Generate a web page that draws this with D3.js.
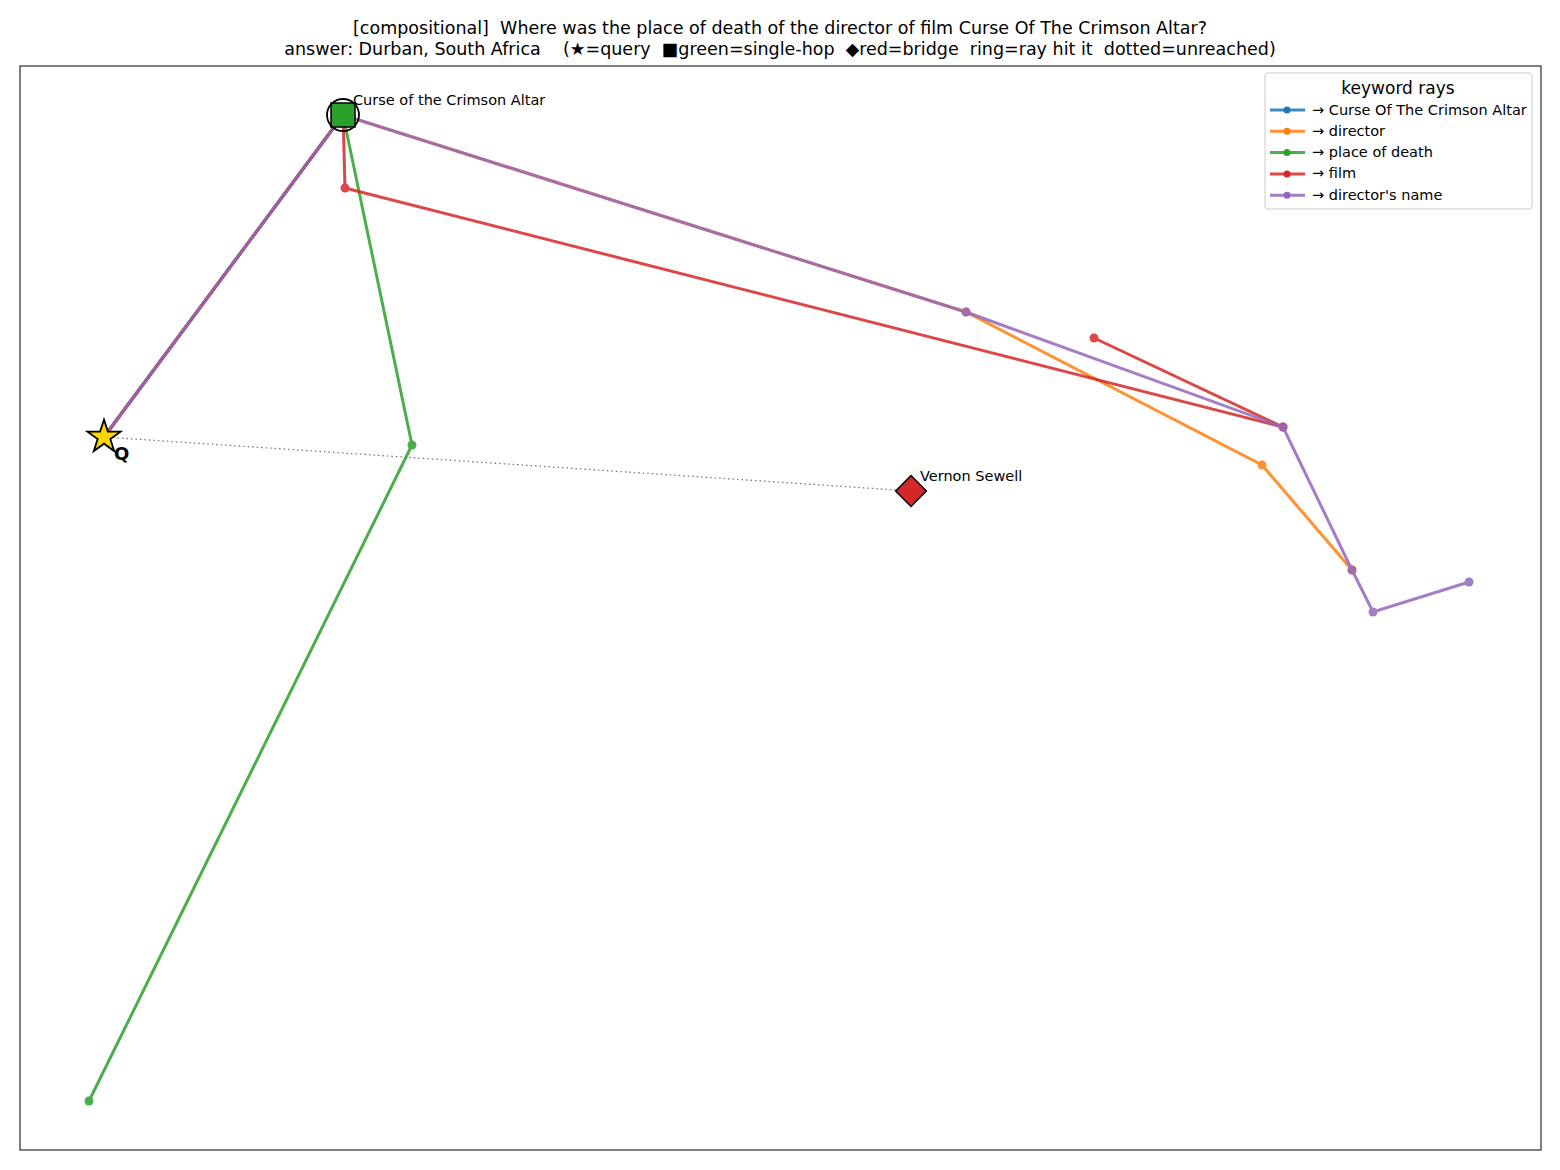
<!DOCTYPE html>
<html><head><meta charset="utf-8">
<script src="https://cdn.jsdelivr.net/npm/d3@7"></script>
<style>body{margin:0;background:#fff;font-family:"DejaVu Sans",sans-serif} text{white-space:pre}</style>
</head><body>
<script>
// positions in an arbitrary 2-D projection space (x right, y down)
const query = [104, 437]
const single = {name: 'Curse of the Crimson Altar', p: [343, 115]}
const bridge = {name: 'Vernon Sewell', p: [911, 491]}

const rayNames = ['→ Curse Of The Crimson Altar', '→ director', '→ place of death', '→ film', "→ director's name"]
const rayColors = ['#1f77b4', '#ff7f0e', '#2ca02c', '#d62728', '#9467bd']
const rayBlue = [[104, 437], [343, 115]]
const rayOrange = [[104, 437], [343, 115], [966, 312], [1262, 465], [1352, 570]]
const rayGreen = [[104, 437], [343, 115], [412, 445], [89, 1101]]
const rayRed = [[104, 437], [343, 115], [345, 188], [1283, 427], [1094, 338]]
const rayPurple = [[104, 437], [343, 115], [966, 312], [1283, 427], [1352, 570], [1373, 612], [1469, 582]]
const rays = [rayBlue, rayOrange, rayGreen, rayRed, rayPurple]

const W = 1560, H = 1170
const m = {l: 20, t: 66, r: 19, b: 20}
const svg = d3.select('body').append('svg').attr('width', W).attr('height', H)

const x = d3.scaleLinear().domain([0, 1521]).range([m.l, W - m.r])
const y = d3.scaleLinear().domain([0, 1084]).range([m.t, H - m.b])
const px = p => x(p[0] - m.l), py = p => y(p[1] - m.t)

svg.append('text').attr('x', 780).attr('y', 34).attr('text-anchor', 'middle').attr('font-size', 17.5)
  .text('[compositional]  Where was the place of death of the director of film Curse Of The Crimson Altar?')
svg.append('text').attr('x', 780).attr('y', 55).attr('text-anchor', 'middle').attr('font-size', 17.5)
  .text('answer: Durban, South Africa    (★=query  ■green=single-hop  ◆red=bridge  ring=ray hit it  dotted=unreached)')

svg.append('rect').attr('x', m.l).attr('y', m.t).attr('width', W - m.l - m.r).attr('height', H - m.t - m.b)
  .attr('fill', 'none').attr('stroke', '#000').attr('stroke-width', 1)

// dotted unreached line
svg.append('line').attr('x1', px(query)).attr('y1', py(query)).attr('x2', px(bridge.p)).attr('y2', py(bridge.p))
  .attr('stroke', '#777').attr('stroke-width', 1.3).attr('stroke-dasharray', '1.5,3')

const line = d3.line().x(px).y(py)
rays.forEach((r, i) => {
  const g = svg.append('g').attr('opacity', 0.85)
  g.append('path').attr('d', line(r)).attr('fill', 'none').attr('stroke', rayColors[i]).attr('stroke-width', 3)
  g.selectAll('circle').data(r.slice(1)).enter().append('circle')
    .attr('cx', px).attr('cy', py).attr('r', 4.5).attr('fill', rayColors[i])
})

// single-hop square + ring
svg.append('rect').attr('x', px(single.p) - 12).attr('y', py(single.p) - 12).attr('width', 24).attr('height', 24)
  .attr('fill', '#2ca02c').attr('stroke', '#000').attr('stroke-width', 1.5)
svg.append('circle').attr('cx', px(single.p)).attr('cy', py(single.p)).attr('r', 16)
  .attr('fill', 'none').attr('stroke', '#000').attr('stroke-width', 1.8)
svg.append('text').attr('x', px(single.p) + 10).attr('y', py(single.p) - 10).attr('font-size', 14.5).text(single.name)

// bridge diamond
svg.append('path').attr('d', d3.symbol(d3.symbolSquare, 470)())
  .attr('transform', `translate(${px(bridge.p)},${py(bridge.p)}) rotate(45)`)
  .attr('fill', '#d62728').attr('stroke', '#000').attr('stroke-width', 1.5)
svg.append('text').attr('x', px(bridge.p) + 9).attr('y', py(bridge.p) - 10).attr('font-size', 14.5).text(bridge.name)

// query star
svg.append('path').attr('d', d3.symbol(d3.symbolStar, 340)())
  .attr('transform', `translate(${px(query)},${py(query)})`)
  .attr('fill', '#ffd700').attr('stroke', '#000').attr('stroke-width', 1.8)
svg.append('text').attr('x', px(query) + 10).attr('y', py(query) + 23).attr('font-size', 18).attr('font-weight', 'bold').text('Q')

// legend
const lg = svg.append('g').attr('transform', 'translate(1265,73)')
lg.append('rect').attr('width', 267).attr('height', 136).attr('rx', 3).attr('fill', '#fff').attr('stroke', '#ccc')
lg.append('text').attr('x', 133).attr('y', 21).attr('text-anchor', 'middle').attr('font-size', 17).text('keyword rays')
rayNames.forEach((n, i) => {
  const yy = 37 + i * 21.3
  lg.append('line').attr('x1', 5).attr('x2', 40).attr('y1', yy).attr('y2', yy).attr('stroke', rayColors[i]).attr('stroke-width', 3).attr('opacity', 0.85)
  lg.append('circle').attr('cx', 22).attr('cy', yy).attr('r', 3.5).attr('fill', rayColors[i])
  lg.append('text').attr('x', 47).attr('y', yy + 4.5).attr('font-size', 14.5).text(n)
})
</script>
</body></html>
